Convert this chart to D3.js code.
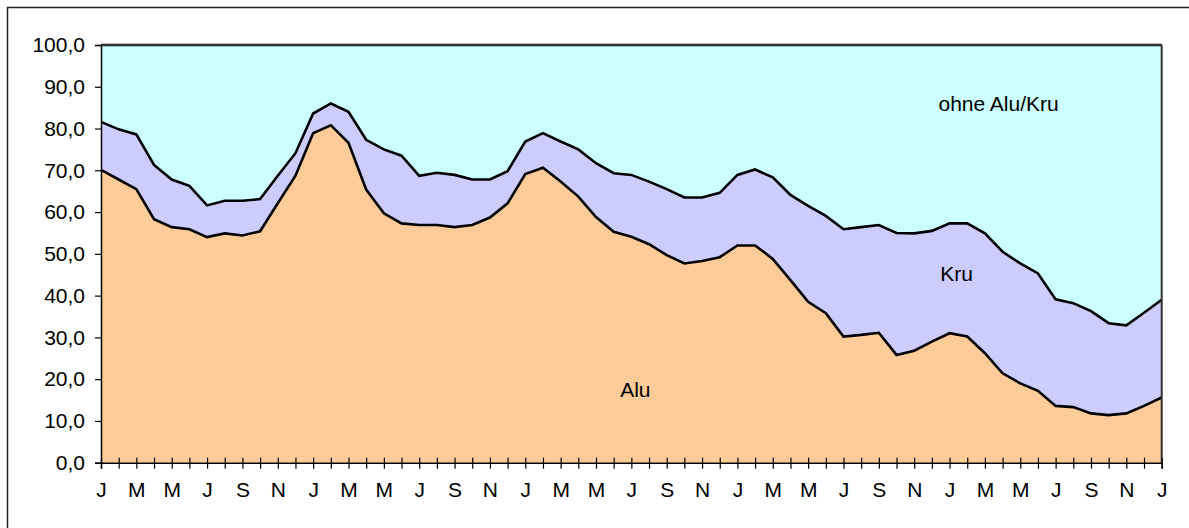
<!DOCTYPE html>
<html><head><meta charset="utf-8">
<script src="https://cdn.jsdelivr.net/npm/d3@7"></script>
<style>html,body{margin:0;padding:0;background:#fff;overflow:hidden}svg{display:block}text{font-family:"Liberation Sans",Arial,sans-serif;fill:#000}</style>
</head><body><svg id="c" width="1189" height="528"></svg>
<script>
// 61 months, Jan year 1 .. Jan year 6
const categories = [
 "J1","F1","M1","A1","M1b","J1b","J1c","A1b","S1","O1","N1","D1",
 "J2","F2","M2","A2","M2b","J2b","J2c","A2b","S2","O2","N2","D2",
 "J3","F3","M3","A3","M3b","J3b","J3c","A3b","S3","O3","N3","D3",
 "J4","F4","M4","A4","M4b","J4b","J4c","A4b","S4","O4","N4","D4",
 "J5","F5","M5","A5","M5b","J5b","J5c","A5b","S5","O5","N5","D5",
 "J6"];
const tickLabels = ["J","","M","","M","","J","","S","","N",""];
const alu = [70.1,67.8,65.5,58.3,56.4,55.9,54.0,54.9,54.4,55.4,62.1,68.7,
 78.9,80.8,76.6,65.4,59.7,57.3,56.9,56.9,56.4,56.9,58.7,62.1,
 69.1,70.6,67.3,63.7,58.8,55.3,54.1,52.3,49.7,47.7,48.3,49.2,
 52.0,52.0,48.8,43.7,38.5,35.8,30.2,30.6,31.1,25.8,26.8,29.0,
 31.0,30.2,26.2,21.4,19.0,17.2,13.6,13.3,11.8,11.4,11.8,13.6,15.6];
const aluKruTop = [81.6,79.8,78.6,71.3,67.8,66.3,61.6,62.7,62.7,63.1,68.7,74.1,
 83.6,86.0,84.0,77.3,75.0,73.5,68.7,69.4,68.9,67.8,67.8,69.8,
 76.9,78.9,76.9,75.0,71.7,69.3,68.9,67.3,65.5,63.5,63.5,64.6,
 68.9,70.2,68.3,64.1,61.5,59.1,55.9,56.4,56.9,55.0,54.9,55.5,
 57.3,57.3,54.9,50.5,47.7,45.3,39.1,38.2,36.3,33.4,32.9,35.9,39.0];
const kru = aluKruTop.map((t,i)=>+(t-alu[i]).toFixed(1));
const rest = aluKruTop.map(t=>+(100-t).toFixed(1));
const seriesNames = ["Alu","Kru","ohne Alu/Kru"];
const seriesColors = ["#FFCC99","#CCCCFF","#CCFFFF"];
const yTicks = [0,10,20,30,40,50,60,70,80,90,100];

const svg = d3.select("#c");
const L=101, R=1161.7, T=45, B=462.7;
svg.append("rect").attr("x",7.5).attr("y",7.5).attr("width",1300).attr("height",600)
  .attr("fill","#fff").attr("stroke","#222").attr("stroke-width",1.5);

const x = d3.scalePoint().domain(categories).range([L,R]);
const y = d3.scaleLinear().domain([0,100]).range([B,T]);

const table = categories.map((c,i)=>({cat:c,"Alu":alu[i],"Kru":kru[i],"ohne Alu/Kru":rest[i]}));
const stack = d3.stack().keys(seriesNames)(table);
const area = d3.area().x(d=>x(d.data.cat)).y0(d=>y(d[0])).y1(d=>y(d[1]));
const line = d3.line().x(d=>x(d.data.cat)).y(d=>y(d[1]));
const g = svg.append("g");
stack.forEach((s,i)=>{
  g.append("path").datum(s).attr("d",area).attr("fill",seriesColors[i]).attr("stroke","none");
});
stack.forEach((s,i)=>{
  g.append("path").datum(s).attr("d",line).attr("fill","none").attr("stroke","#000")
   .attr("stroke-width",2.6).attr("stroke-linejoin","miter");
});
// plot frame
svg.append("line").attr("x1",R).attr("x2",R).attr("y1",T).attr("y2",B).attr("stroke","#333").attr("stroke-width",2);
svg.append("line").attr("x1",L).attr("x2",R).attr("y1",T).attr("y2",T).attr("stroke","#333").attr("stroke-width",2);

// Y axis
const ya = svg.append("g").attr("transform",`translate(${L},0)`)
  .call(d3.axisLeft(y).tickValues(yTicks).tickSize(6).tickPadding(10)
   .tickFormat(d=>d3.format(".1f")(d).replace(".",",")));
ya.select(".domain").attr("stroke","#000").attr("stroke-width",1.5);
ya.selectAll(".tick line").attr("stroke","#000").attr("stroke-width",1.2);
ya.selectAll("text").style("font-size","21px").attr("font-family","Liberation Sans, Arial, sans-serif");

// X axis
const xa = svg.append("g").attr("transform",`translate(0,${B})`)
  .call(d3.axisBottom(x).tickSize(6).tickPadding(13)
   .tickFormat((d,i)=>tickLabels[i%12]));
xa.select(".domain").attr("stroke","#000").attr("stroke-width",1.5);
xa.selectAll(".tick line").attr("y1",-5).attr("stroke","#000").attr("stroke-width",1.2);
xa.selectAll("text").style("font-size","21px").attr("font-family","Liberation Sans, Arial, sans-serif");

// series labels
const labelPos = [{n:"Alu",i:30,v:15.7,dx:4},{n:"Kru",i:48,v:43.4,dx:7},{n:"ohne Alu/Kru",i:51,v:84.3,dx:-4}];
labelPos.forEach(p=>{
  svg.append("text").attr("x",x(categories[p.i])+p.dx).attr("y",y(p.v))
    .attr("text-anchor","middle").style("font-size","21px").text(p.n);
});
</script></body></html>
